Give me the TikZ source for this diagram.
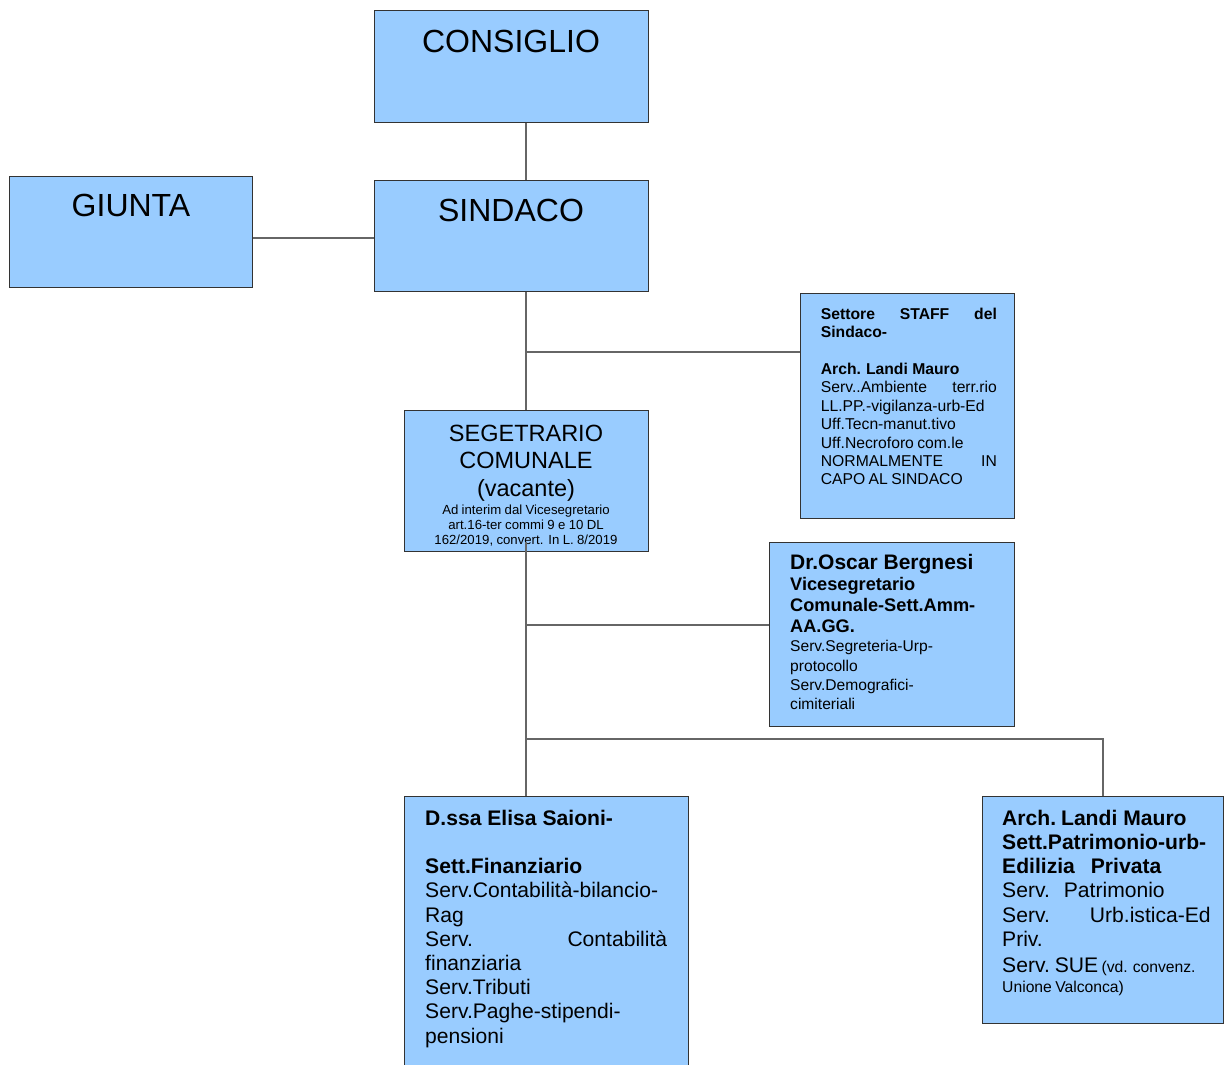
\documentclass[tikz,border=0pt]{standalone}
\usepackage{fontspec}
\setmainfont{Liberation Sans}
\definecolor{boxfill}{RGB}{153,204,255}
\newcommand\myfs[2]{\fontsize{#1pt}{#2pt}\selectfont}
\newcommand\bsp{\bfseries\spaceskip=0.28em\relax}
\begin{document}
\begin{tikzpicture}[x=1pt,y=-1pt,
 box/.style={draw=black!80, line width=1.1pt, fill=boxfill, inner sep=0pt, anchor=north west},
 conn/.style={draw=black!60, line width=1.3pt},
 txt/.style={inner sep=0pt, anchor=base west, align=left, text=black},
 ctxt/.style={inner sep=0pt, anchor=base, align=center, text=black},
 title/.style={inner sep=0pt, anchor=base, font=\myfs{32}{36}}]
\useasboundingbox (0,0) rectangle (1224,1065);
\fill[white] (0,0) rectangle (1224,1065);

% boxes
\node[box, minimum width=274pt, minimum height=112pt] (consiglio) at (374,10) {};
\node[box, minimum width=243pt, minimum height=111pt] (giunta) at (9,176) {};
\node[box, minimum width=274pt, minimum height=111pt] (sindaco) at (374,180) {};
\node[box, minimum width=214pt, minimum height=225.5pt] (staff) at (800,292.5) {};
\node[box, minimum width=244pt, minimum height=140.5pt] (segr) at (404,410) {};
\node[box, minimum width=245pt, minimum height=184pt] (berg) at (769,542) {};
\node[box, minimum width=284pt, minimum height=300pt] (saioni) at (404,796) {};
\node[box, minimum width=241pt, minimum height=227pt] (landi) at (982,796) {};

% titles
\node[title] (tconsiglio) at (511,53) {CONSIGLIO};
\node[title] (tgiunta) at (131,216) {GIUNTA};
\node[title] (tsindaco) at (511,221.5) {SINDACO};

% staff
\node[txt, text width=176pt] (tstaff) at (820.7,319.3) {%
{\myfs{15.7}{18.4}\bsp Settore\hfill STAFF\hfill del\\ Sindaco-\\[18.4pt] Arch. Landi Mauro\par}%
{\myfs{15.7}{18.4}Serv..Ambiente\hfill terr.rio\\ LL.PP.-vigilanza-urb-Ed\\ Uff.Tecn-manut.tivo\\ Uff.Necroforo com.le\\ NORMALMENTE\hfill IN\\ CAPO AL SINDACO\par}};

% segretario
\node[ctxt, text width=240pt] (tsegr) at (526,441) {%
{\myfs{23.5}{27.5}SEGETRARIO\\ COMUNALE\\ (vacante)\par}%
\vspace{2.8pt}%
{\myfs{13.2}{15.2}Ad interim dal Vicesegretario\\ art.16-ter commi 9 e 10 DL\\ 162/2019, convert. In L. 8/2019\par}};

% bergnesi
\node[txt, text width=215pt] (tberg) at (790,569.7) {%
{\myfs{21}{21.6}\bsp Dr.Oscar Bergnesi\par}%
{\myfs{18.2}{21}\bsp Vicesegretario\\ Comunale-Sett.Amm-\\ AA.GG.\par}%
{\myfs{15.6}{19.2}Serv.Segreteria-Urp-\\ protocollo\\ Serv.Demografici-\\ cimiteriali\par}};

% saioni
\node[txt, text width=242pt] (tsaioni) at (425,825.3) {%
{\myfs{21.1}{24.2}\bsp D.ssa Elisa Saioni-\\[24.2pt] Sett.Finanziario\par}%
{\myfs{21.1}{24.2}Serv.Contabilità-bilancio-\\ Rag\\ Serv.\hfill Contabilità\\ finanziaria\\ Serv.Tributi\\ Serv.Paghe-stipendi-\\ pensioni\par}};

% landi
\node[txt, text width=208.5pt] (tlandi) at (1002,825.3) {%
{\myfs{21.1}{24.2}\bsp Arch. Landi Mauro\\ Sett.Patrimonio-urb-\\ Edilizia\hspace{16pt}Privata\par}%
{\myfs{21.1}{24.2}Serv.\hspace{14pt}Patrimonio\\ Serv.\hfill Urb.istica-Ed\\ Priv.\\[2.2pt] Serv. SUE {\myfs{15.7}{18}(vd. convenz.}\par}%
{\myfs{15.7}{19.3}Unione Valconca)\par}};

% connectors
\coordinate (spine) at (526,0);
\coordinate (gy) at (0,238);
\coordinate (j1) at (526,352);
\coordinate (j2) at (526,625);
\coordinate (j3) at (526,739);
\draw[conn] (consiglio.south -| spine) -- (sindaco.north -| spine);
\draw[conn] (giunta.east |- gy) -- (sindaco.west |- gy);
\draw[conn] (sindaco.south -| spine) -- (segr.north -| spine);
\draw[conn] (j1) -- (staff.west |- j1);
\draw[conn] ([yshift=10pt]segr.south -| spine) -- (saioni.north -| spine);
\draw[conn] (j2) -- (berg.west |- j2);
\draw[conn] (j3) -- (j3 -| landi.north) -- (landi.north);
\end{tikzpicture}
\end{document}
